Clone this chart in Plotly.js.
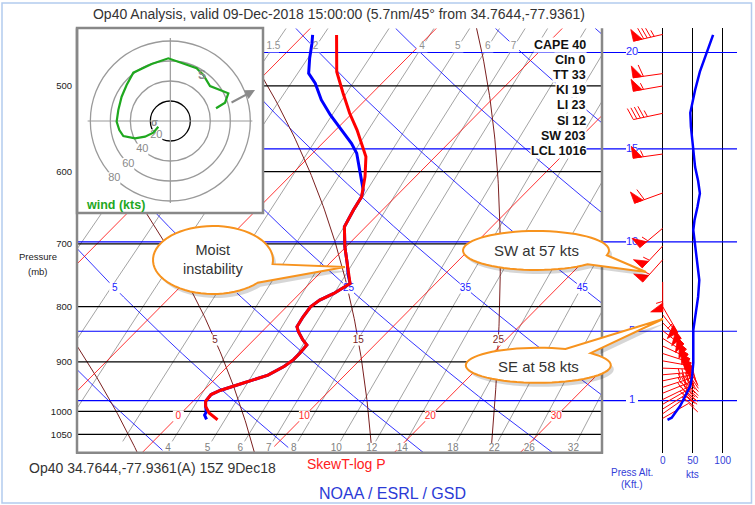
<!DOCTYPE html>
<html>
<head>
<meta charset="utf-8">
<script src="https://cdn.plot.ly/plotly-3.0.1.min.js"></script>
<style>
html,body{margin:0;padding:0;background:#fff;}
#chart{width:755px;height:505px;}
</style>
</head>
<body>
<div id="chart"></div>
<script>
// ================= DATA =================
// Temperature profile: pressure (mb) and temperature (deg C)
const tempP = [448.5,485,507.8,530,549.2,571,581.3,606.6,626.3,633,651.2,674.9,704.1,729.6,748,761.4,777.8,788.9,800.3,817.6,835.2,844,858.9,867.9,883.1,895.6,908.4,925.8,940.9,956.5,964.7,978.7,989.3,1003.5,1018];
const tempC = [-17.4,-14.5,-12.3,-10.2,-8.3,-6.4,-5.5,-4.0,-3.0,-2.7,-2.3,-1.7,-0.1,1.4,2.4,3.2,2.7,2.1,1.9,2.1,2.4,2.9,3.9,4.6,4.7,4.7,4.5,3.9,2.6,1.3,0.9,1.0,1.4,2.2,3.4];
// Dew point profile (saturated, i.e. equal to temperature, between ~630 and ~990 mb)
const dewP = [448.5,456.5,471.4,486.7,497.1,515.1,531.9,547.2,565,577.1,600.2,624,633,651.2,674.9,704.1,729.6,748,761.4,777.8,788.9,800.3,817.6,835.2,844,858.9,867.9,883.1,895.6,908.4,925.8,940.9,956.5,964.7,978.7,989.3,1001.4,1007.8,1014.1,1017.3];
const dewC = [-19.3,-18.7,-17.7,-16.6,-15.3,-13.5,-11.6,-9.8,-7.7,-6.5,-4.8,-3.1,-2.7,-2.3,-1.7,-0.1,1.4,2.4,3.2,2.7,2.1,1.9,2.1,2.4,2.9,3.9,4.6,4.7,4.7,4.5,3.9,2.6,1.3,0.9,1.0,1.4,1.9,2.0,2.3,2.5];
// Wind speed profile (kts)
const windP = [448.5,466.4,485,504.3,522.4,529.4,545.1,569.2,594.3,611.9,628.4,646.6,665.6,679.6,723.8,756.1,783.6,817.6,840.9,902.1,927.8,947.5,967.8,988.7,999.3,1013.5,1018];
const windKts = [84,73,62,54,48,46,47,50,54,59,62,58,53,51,57,61,59,54,51,51,49,46,37,29,23,15,8];
// Wind barbs: pressure, direction (deg from), speed (kts)
const barbP   = [448,487,500,530,578,628,677,703,724,759,800,814,828,842,856,870,884,898,912,925,937,950,962,975,985,995,1005,1015];
const barbDir = [257,262,260,258,262,250,230,223,222,180,150,142,135,128,122,115,108,100,92,85,78,72,68,64,60,58,55,60];
const barbKts = [85,60,55,45,55,60,55,55,55,55,55,55,55,50,50,50,50,50,45,45,45,45,40,35,30,25,20,10];
// Hodograph (u, v in kts)
const hodoU = [-12.0,-17.0,-25.3,-35.3,-47.0,-51.0,-53.7,-52.0,-48.7,-43.7,-37.0,-18.7,-2.0,11.3,26.3,33.0,36.3,39.7,49.7,58.0,54.7,45.7];
const hodoV = [-5.7,-11.7,-15.7,-17.3,-15.0,-9.0,-0.7,11.0,24.3,36.0,48.3,57.0,62.7,57.7,52.7,46.0,41.0,35.0,31.0,27.7,18.3,12.7];
const hodoRings = [20,40,60,80];
// Axis / reference values
const pressureTicks = [500,600,700,800,900,1000,1050];
const altitudeKft = [20,15,10,5,1];
const altitudeP = [465.6,571.8,696.8,843.1,977.2];
const windTicks = [0,50,100];
const isotherms = [-50,-40,-30,-20,-10,0,10,20,30,40];
const isothermLabels = [0,10,20,30];
const dryAdiabats = [-15,-5,5,15,25,35,45,55,65,75,85];
const dryAdiabatLabels = [5,15,25,35,45];
const moistAdiabats = [-15,-5,5,15,25,35];
const moistAdiabatLabels = [5,15,25];
const mixingRatios = [1,1.5,2,3,4,5,6,7,8,10,12,14,18,22,26,32];
const mixRatioBottomLabels = [4,5,6,7,8,10,12,14,18,22,26,32];
const mixRatioTopLabels = [1.5,2,4,5,6,7];
const indexNames = ['CAPE','CIn','TT','KI','LI','SI','SW','LCL'];
const indexValues = [40,0,33,19,23,12,203,1016];

// ================= GEOMETRY =================
const W = 755, H = 505;
const FONT = 'Liberation Sans, Arial, Helvetica, sans-serif';
const plotL = 77, plotR = 602, plotT = 28.3, plotB = 452.7;
const pTop = 442.2, pBot = 1092;
const SKEW = 36.9, PX_PER_C = 12.6, X0_PX = 183;
const xMin = (plotL - X0_PX) / PX_PER_C, xMax = (plotR - X0_PX) / PX_PER_C;
const windL = 602, windR = 745, windZeroPx = 662.7, PX_PER_KT = 0.6, altLineEndPx = 737;
const wMin = (windL - windZeroPx) / PX_PER_KT, wMax = (windR - windZeroPx) / PX_PER_KT;
const wAltEnd = (altLineEndPx - windZeroPx) / PX_PER_KT;
const PX_PER_LN = (plotB - plotT) / Math.log(pBot / pTop);
const hodoL = 77, hodoR = 263, hodoT = 28, hodoB = 213, hodoCx = 170.33, hodoCy = 121;
// small adjustment so the saturated adiabats follow the chart's own drawing
const MOIST_START_OFFSET = -0.3, MOIST_RATE_FACTOR = 1.025;

const fx = px => px / W;
const fy = py => 1 - py / H;
const skx = (T, p) => T + SKEW * Math.log(1000 / p);

function esat(Tc){ return 6.112 * Math.exp(17.67 * Tc / (Tc + 243.5)); }
function tdFromW(w, p){ const e = p * w / (622 + w); const l = Math.log(e / 6.112); return 243.5 * l / (17.67 - l); }
function moistRate(p, Tc){
  const T = Tc + 273.15, es = esat(Tc), rs = 0.622 * es / (p - es);
  const Rd = 287.04, Cp = 1005.7, Lv = 2.501e6;
  return MOIST_RATE_FACTOR * (Rd * T + Lv * rs) / (p * (Cp + Lv * Lv * rs * 0.622 / (Rd * T * T)));
}
function moistStep(p, T, h){ const k1 = moistRate(p, T); const k2 = moistRate(p + h / 2, T + k1 * h / 2); return T + k2 * h; }
function moistCurve(thw){
  const up = [], dn = [];
  const t0 = thw + MOIST_START_OFFSET;
  let p = 1000, T = t0; const h = 5;
  while (p > pTop - 5){ up.push([p, T]); T = moistStep(p, T, -h); p -= h; }
  p = 1000; T = t0;
  while (p < pBot + 5){ T = moistStep(p, T, h); p += h; dn.push([p, T]); }
  return up.reverse().concat(dn);
}
function moistTAt(thw, target){
  let p = 1000, T = thw + MOIST_START_OFFSET; const n = 60, h = (target - 1000) / n;
  for (let i = 0; i < n; i++){ T = moistStep(p, T, h); p += h; }
  return T;
}
const dryT = (th, p) => (th + 273.15) * Math.pow(p / 1000, 0.2857) - 273.15;

const traces = [];
function lines(xs, ys, color, width, xa, ya){
  return {type:'scatter', mode:'lines', x:xs, y:ys, line:{color:color, width:width}, hoverinfo:'skip', showlegend:false, xaxis:xa||'x', yaxis:ya||'y', connectgaps:false};
}
function labels(xs, ys, texts, color, size, xa, ya){
  return {type:'scatter', mode:'markers+text', x:xs, y:ys, text:texts, textposition:'middle center',
    textfont:{color:color, size:size, family:FONT},
    marker:{symbol:'square', color:'#ffffff', size:size + 1, line:{width:0}},
    hoverinfo:'skip', showlegend:false, cliponaxis:false, xaxis:xa||'x', yaxis:ya||'y'};
}
function hLines(levels, x0, x1){
  const xs = [], ys = [];
  levels.forEach(p => { xs.push(x0, x1, null); ys.push(p, p, null); });
  return [xs, ys];
}

// ---- mixing ratio lines ----
{
  const xs = [], ys = [], pLow = 1066;
  mixingRatios.forEach(w => {
    for (let k = 0; k <= 20; k++){ const p = pLow * Math.pow(pTop / pLow, k / 20); xs.push(skx(tdFromW(w, p), p)); ys.push(p); }
    xs.push(null); ys.push(null);
  });
  traces.push(lines(xs, ys, '#8c8c8c', 0.8));
}
// ---- dry adiabats ----
{
  const xs = [], ys = [];
  dryAdiabats.forEach(th => {
    for (let k = 0; k <= 30; k++){ const p = pBot * Math.pow(pTop / pBot, k / 30); xs.push(skx(dryT(th, p), p)); ys.push(p); }
    xs.push(null); ys.push(null);
  });
  traces.push(lines(xs, ys, '#0000ff', 0.8));
}
// ---- moist adiabats ----
{
  const xs = [], ys = [];
  moistAdiabats.forEach(th => {
    moistCurve(th).forEach(q => { xs.push(skx(q[1], q[0])); ys.push(q[0]); });
    xs.push(null); ys.push(null);
  });
  traces.push(lines(xs, ys, '#7a1f1f', 1.0));
}
// ---- isotherms ----
{
  const xs = [], ys = [];
  isotherms.forEach(T => { xs.push(skx(T, pBot), skx(T, pTop), null); ys.push(pBot, pTop, null); });
  traces.push(lines(xs, ys, '#ff0000', 0.8));
}
// ---- isobars & altitude lines ----
{
  const iso = hLines(pressureTicks, xMin, xMax);
  traces.push(lines(iso[0], iso[1], '#000000', 1.2));
  const alt = hLines(altitudeP, xMin, xMax);
  traces.push(lines(alt[0], alt[1], '#0000ff', 1.2));
  const altW = hLines(altitudeP, wMin, wAltEnd);
  traces.push(lines(altW[0], altW[1], '#0000ff', 1.2, 'x3', 'y'));
}
// ---- background labels ----
traces.push(labels(isothermLabels.map(T => skx(T, 1010)), isothermLabels.map(() => 1010), isothermLabels.map(String), '#ff2a2a', 10));
traces.push(labels(mixRatioBottomLabels.map(w => skx(tdFromW(w, 1082), 1082)), mixRatioBottomLabels.map(() => 1082), mixRatioBottomLabels.map(String), '#808080', 10));
traces.push(labels(mixRatioTopLabels.map(w => skx(tdFromW(w, 460), 460)), mixRatioTopLabels.map(() => 460), mixRatioTopLabels.map(String), '#909090', 10));
traces.push(labels(dryAdiabatLabels.map(th => skx(dryT(th, 769), 769)), dryAdiabatLabels.map(() => 769), dryAdiabatLabels.map(String), '#2020ff', 10));
traces.push(labels(moistAdiabatLabels.map(th => skx(moistTAt(th, 859), 859)), moistAdiabatLabels.map(() => 859), moistAdiabatLabels.map(String), '#7a1f1f', 10));

// ---- sounding ----
traces.push(lines(dewP.map((p, i) => skx(dewC[i], p)), dewP, '#0000ff', 3));
traces.push(lines(tempP.map((p, i) => skx(tempC[i], p)), tempP, '#ff0000', 3));

// ---- hodograph ----
traces.push(labels(hodoRings.map(r => -0.7 * r), hodoRings.map(r => -0.715 * r), hodoRings.map(String), '#8a8a8a', 11, 'x2', 'y2'));
traces.push(lines(hodoU, hodoV, '#1fa81f', 2.2, 'x2', 'y2'));

// ---- wind panel ----
traces.push(labels(altitudeKft.map(() => (632 - windZeroPx) / PX_PER_KT), altitudeP, altitudeKft.map(String), '#2a2aff', 11, 'x3', 'y'));
{
  const bx = [], by = [];
  const toData = (p, ox, oy) => [ox / PX_PER_KT, p * Math.exp(oy / PX_PER_LN)];
  const add = (arrX, arrY, p, ox, oy) => { const d = toData(p, ox, oy); arrX.push(d[0]); arrY.push(d[1]); };
  const L = 30, Lf = 12, Wp = 9, gap = 3.6;
  barbP.forEach((p, i) => {
    const a = barbDir[i] * Math.PI / 180;
    const dx = Math.sin(a), dy = -Math.cos(a), nx = -dy, ny = dx;
    add(bx, by, p, 0, 0); add(bx, by, p, dx * L, dy * L); bx.push(null); by.push(null);
    let s = Math.round(barbKts[i] / 5) * 5;
    const nPen = Math.floor(s / 50); s -= nPen * 50;
    const nFull = Math.floor(s / 10); s -= nFull * 10;
    const nHalf = s >= 5 ? 1 : 0;
    let pos = L;
    for (let k = 0; k < nPen; k++){
      const px = [], py = [];
      add(px, py, p, dx * pos, dy * pos);
      add(px, py, p, dx * pos + nx * Lf, dy * pos + ny * Lf);
      add(px, py, p, dx * (pos - Wp), dy * (pos - Wp));
      add(px, py, p, dx * pos, dy * pos);
      traces.push({type:'scatter', mode:'lines', x:px, y:py, fill:'toself', fillcolor:'#ff0000', line:{color:'#ff0000', width:0.8}, hoverinfo:'skip', showlegend:false, xaxis:'x3', yaxis:'y'});
      pos -= Wp + 1.5;
    }
    if (nPen === 0 && nFull === 0) pos -= gap;
    const feather = (len) => {
      add(bx, by, p, dx * pos, dy * pos);
      add(bx, by, p, dx * pos + nx * len + dx * len * 0.3, dy * pos + ny * len + dy * len * 0.3);
      bx.push(null); by.push(null);
      pos -= gap;
    };
    for (let k = 0; k < nFull; k++) feather(Lf);
    if (nHalf) feather(Lf * 0.55);
  });
  traces.push(lines(bx, by, '#ff0000', 1, 'x3', 'y'));
}
traces.push(lines(windKts, windP, '#0000ff', 2.5, 'x3', 'y'));

// ================= SHAPES =================
const shapes = [];
shapes.push({type:'rect', xref:'paper', yref:'paper', x0:fx(2), x1:fx(751.5), y0:fy(503), y1:fy(3), line:{color:'#b3cbee', width:1.5}, layer:'below'});
// hodograph rings and cross
hodoRings.forEach(r => shapes.push({type:'circle', xref:'x2', yref:'y2', x0:-r, x1:r, y0:-r, y1:r, line:{color: r === 20 ? '#000' : '#9a9a9a', width:1.3}, layer:'below'}));
shapes.push({type:'line', xref:'x2', yref:'y2', x0:-82.7, x1:82, y0:0, y1:0, line:{color:'#9a9a9a', width:1.2}, layer:'below'});
shapes.push({type:'line', xref:'x2', yref:'y2', x0:0, x1:0, y0:-82, y1:83, line:{color:'#9a9a9a', width:1.2}, layer:'below'});
// frame
const frameCol = '#888888';
shapes.push({type:'line', xref:'paper', yref:'paper', x0:fx(plotL), x1:fx(plotL), y0:fy(plotT), y1:fy(plotB + 1), line:{color:frameCol, width:2.5}, layer:'above'});
shapes.push({type:'line', xref:'paper', yref:'paper', x0:fx(plotR), x1:fx(plotR), y0:fy(plotT), y1:fy(plotB + 1), line:{color:frameCol, width:2.5}, layer:'above'});
shapes.push({type:'line', xref:'paper', yref:'paper', x0:fx(plotL - 1), x1:fx(plotR + 1), y0:fy(plotB), y1:fy(plotB), line:{color:frameCol, width:2.5}, layer:'above'});
shapes.push({type:'rect', xref:'paper', yref:'paper', x0:fx(hodoL), x1:fx(hodoR), y0:fy(hodoB), y1:fy(hodoT), line:{color:frameCol, width:2.5}, layer:'above'});
// callouts
function bubblePath(cx, cy, rx, ry, a1, a2, tip, ox, oy){
  const pts = [];
  const start = a2, end = a1 + 360, n = 60;
  for (let k = 0; k <= n; k++){ const t = (start + (end - start) * k / n) * Math.PI / 180; pts.push([cx + rx * Math.cos(t) + ox, cy + ry * Math.sin(t) + oy]); }
  pts.push([tip[0] + ox, tip[1] + oy]);
  return 'M' + pts.map(q => fx(q[0]).toFixed(5) + ',' + fy(q[1]).toFixed(5)).join('L') + 'Z';
}
const callouts = [
  {cx:213, cy:260, rx:60, ry:34, a1:7, a2:42, tip:[345,267]},
  {cx:536, cy:250.5, rx:73, ry:19.5, a1:14, a2:45, tip:[646,272]},
  {cx:538.3, cy:365.3, rx:72.5, ry:17.5, a1:-68, a2:-44, tip:[663,319]}
];
callouts.forEach(c => {
  shapes.push({type:'path', xref:'paper', yref:'paper', path:bubblePath(c.cx, c.cy, c.rx, c.ry, c.a1, c.a2, c.tip, 3, 4), fillcolor:'rgba(0,0,0,0.16)', line:{width:0}, layer:'above'});
  shapes.push({type:'path', xref:'paper', yref:'paper', path:bubblePath(c.cx, c.cy, c.rx, c.ry, c.a1, c.a2, c.tip, 0, 0), fillcolor:'#ffffff', line:{color:'#f7931e', width:2}, layer:'above'});
});

// ================= ANNOTATIONS =================
const annotations = [];
const txt = (x, y, text, size, color, extra) => Object.assign({xref:'paper', yref:'paper', x:fx(x), y:fy(y), text:text, showarrow:false, xanchor:'center', yanchor:'middle', font:{family:FONT, size:size, color:color}}, extra || {});
indexNames.forEach((n, i) => annotations.push(txt(587, 45 + 15.1 * i, n + ' ' + indexValues[i], 12.5, '#111', {xanchor:'right', bgcolor:'#ffffff', borderpad:0, font:{family:FONT, size:12.5, color:'#111', weight:700}})));
annotations.push(txt(27, 467.5, 'Op40 34.7644,-77.9361(A) 15Z 9Dec18', 14, '#333', {xanchor:'left'}));
annotations.push(txt(346, 463.5, 'SkewT-log P', 14, '#ff2020'));
annotations.push(txt(392, 493, 'NOAA / ESRL / GSD', 16, '#2b3bd6'));
annotations.push(txt(38, 256, 'Pressure', 9.5, '#222'));
annotations.push(txt(38, 271, '(mb)', 9.5, '#222'));
annotations.push(txt(632, 472, 'Press Alt.', 10, '#3340d8'));
annotations.push(txt(632, 484, '(Kft.)', 10, '#3340d8'));
annotations.push(txt(692, 474, 'kts', 10, '#3340d8'));
annotations.push(txt(115.5, 205, 'wind (kts)', 12.5, '#1fa81f', {font:{family:FONT, size:12.5, color:'#1fa81f', weight:700}}));
annotations.push(txt(213, 259, 'Moist<br>instability', 14.5, '#333'));
annotations.push(txt(536, 250.5, 'SW at 57 kts', 15, '#333'));
annotations.push(txt(538, 366, 'SE at 58 kts', 15, '#333'));
// hodograph markers
annotations.push({xref:'x2', yref:'y2', axref:'x2', ayref:'y2', x:84.7, y:31, ax:59.7, ay:17.7, text:'', showarrow:true, arrowhead:2, arrowsize:1, arrowwidth:2, arrowcolor:'#8a8a8a'});
annotations.push({xref:'x2', yref:'y2', x:31.3, y:46, text:'<b>S</b>', showarrow:false, font:{family:FONT, size:12, color:'#8a8a8a'}});
annotations.push({xref:'x2', yref:'y2', x:-16, y:-1.5, text:'<b>σ</b>', showarrow:false, font:{family:FONT, size:10, color:'#8a8a8a'}});

// ================= LAYOUT =================
const layout = {
  width:W, height:H, margin:{l:0, r:0, t:0, b:0},
  paper_bgcolor:'#ffffff', plot_bgcolor:'#ffffff',
  showlegend:false, hovermode:false,
  font:{family:FONT, color:'#333'},
  title:{text:'Op40 Analysis, valid 09-Dec-2018 15:00:00 (5.7nm/45° from 34.7644,-77.9361)', x:fx(339), xanchor:'center', y:fy(14), yanchor:'middle', font:{family:FONT, size:14, color:'#333'}},
  xaxis:{domain:[fx(plotL), fx(plotR)], range:[xMin, xMax], showgrid:false, zeroline:false, showticklabels:false, showline:false, ticks:'', anchor:'y', fixedrange:true},
  yaxis:{domain:[fy(plotB), fy(plotT)], type:'log', range:[Math.log10(pBot), Math.log10(pTop)], tickmode:'array', tickvals:pressureTicks, ticktext:pressureTicks.map(String), tickfont:{family:FONT, size:9.5, color:'#222'}, showgrid:false, zeroline:false, showline:false, ticks:'', ticklabelstandoff:4, anchor:'x', fixedrange:true},
  xaxis2:{domain:[fx(hodoL), fx(hodoR)], range:[hodoL - hodoCx, hodoR - hodoCx], visible:false, anchor:'y2', fixedrange:true},
  yaxis2:{domain:[fy(hodoB), fy(hodoT)], range:[hodoCy - hodoB, hodoCy - hodoT], visible:false, anchor:'x2', fixedrange:true},
  xaxis3:{domain:[fx(windL), fx(windR)], range:[wMin, wMax], anchor:'y', tickmode:'array', tickvals:windTicks, ticktext:windTicks.map(String), showgrid:true, gridcolor:'#000', gridwidth:1.2, zeroline:true, zerolinecolor:'#000', zerolinewidth:1.2, showline:false, ticks:'', tickfont:{family:FONT, size:10, color:'#3340d8'}, fixedrange:true},
  shapes:shapes, annotations:annotations
};

Plotly.newPlot('chart', traces, layout, {staticPlot:true, displayModeBar:false});
</script>
</body>
</html>
